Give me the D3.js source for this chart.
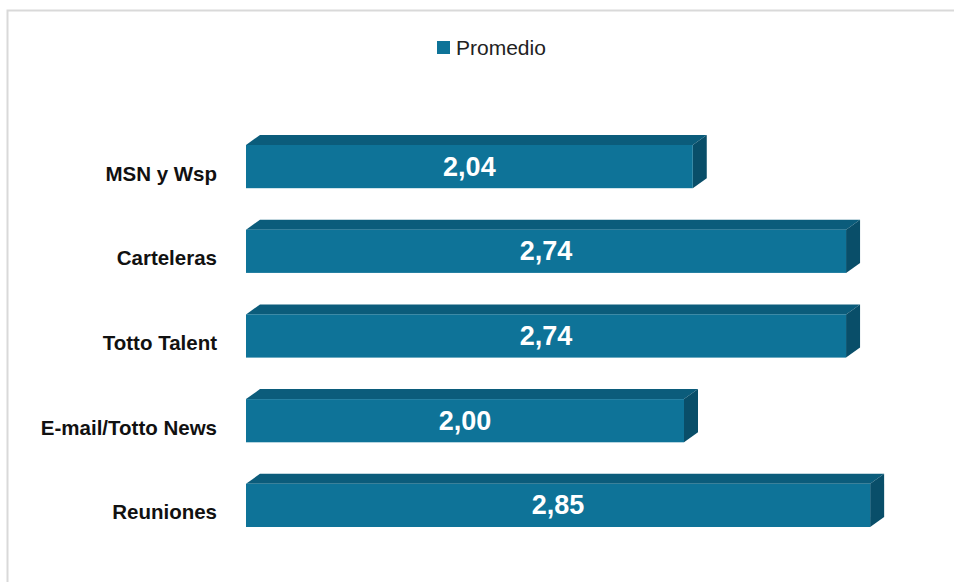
<!DOCTYPE html>
<html>
<head>
<meta charset="utf-8">
<title>Promedio</title>
<style>
  body { margin: 0; background: #fff; }
  svg { display: block; }
  .cat text { font-family: "Liberation Sans", Arial, sans-serif; font-weight: bold; font-size: 20.5px; fill: #111; }
  .val { font-family: "Liberation Sans", Arial, sans-serif; font-weight: bold; font-size: 27px; fill: #fff; }
  .legend text { font-family: "Liberation Sans", Arial, sans-serif; font-size: 21px; fill: #222; }
</style>
</head>
<body>
<div id="chart"></div>
<script src="https://d3js.org/d3.v7.min.js"></script>
<script>
// data
var categories = ["MSN y Wsp", "Carteleras", "Totto Talent", "E-mail/Totto News", "Reuniones"];
var promedio = [2.04, 2.74, 2.74, 2.00, 2.85];
var seriesName = "Promedio";

var W = 954, H = 582;
var depthX = 14, depthY = 10;
var front = "#0e7398", topC = "#0b5c7b", side = "#094e69";

var svg = d3.select("#chart").append("svg")
  .attr("width", W).attr("height", H);

// chart area border (only top/left visible in the picture)
svg.append("rect")
  .attr("x", 7.5).attr("y", 10.5)
  .attr("width", W).attr("height", H)
  .attr("fill", "none").attr("stroke", "#d9d9d9").attr("stroke-width", 2);

var x = d3.scaleLinear().domain([0, 3]).range([246, 903]);
var y = d3.scaleBand().domain(categories).range([145, 527]).paddingInner(0.49).paddingOuter(0);

var data = categories.map(function(c, i) { return {cat: c, v: promedio[i]}; });

var bars = svg.selectAll("g.bar").data(data).enter().append("g").attr("class", "bar");

// top face
bars.append("path")
  .attr("fill", topC)
  .attr("d", function(d) {
    var x0 = x(0), x1 = x(d.v), y0 = y(d.cat);
    return "M" + x0 + "," + y0 + "L" + (x0 + depthX) + "," + (y0 - depthY) +
      "L" + (x1 + depthX) + "," + (y0 - depthY) + "L" + x1 + "," + y0 + "Z";
  });

// side face
bars.append("path")
  .attr("fill", side)
  .attr("d", function(d) {
    var x1 = x(d.v), y0 = y(d.cat), y1 = y0 + y.bandwidth();
    return "M" + x1 + "," + y0 + "L" + (x1 + depthX) + "," + (y0 - depthY) +
      "L" + (x1 + depthX) + "," + (y1 - depthY) + "L" + x1 + "," + y1 + "Z";
  });

// front face
bars.append("rect")
  .attr("fill", front)
  .attr("x", x(0))
  .attr("y", function(d) { return y(d.cat); })
  .attr("width", function(d) { return x(d.v) - x(0); })
  .attr("height", y.bandwidth());

// value labels
var fmt = function(v) { return d3.format(".2f")(v).replace(".", ","); };
bars.append("text")
  .attr("class", "val")
  .attr("text-anchor", "middle")
  .attr("dominant-baseline", "central")
  .attr("x", function(d) { return (x(0) + x(d.v)) / 2; })
  .attr("y", function(d) { return y(d.cat) + y.bandwidth() / 2; })
  .text(function(d) { return fmt(d.v); });

// category axis
var axis = svg.append("g")
  .attr("class", "cat")
  .attr("transform", "translate(" + (x(0) - 12) + ",0)")
  .call(d3.axisLeft(y).tickSize(0).tickPadding(17));
axis.select(".domain").remove();
axis.selectAll("text").attr("dy", "0.68em");

// legend
var lg = svg.append("g").attr("class", "legend").attr("transform", "translate(437,41)");
lg.append("rect").attr("width", 13).attr("height", 13).attr("fill", front);
lg.append("text").attr("x", 19).attr("y", 14).text(seriesName);
</script>
</body>
</html>
